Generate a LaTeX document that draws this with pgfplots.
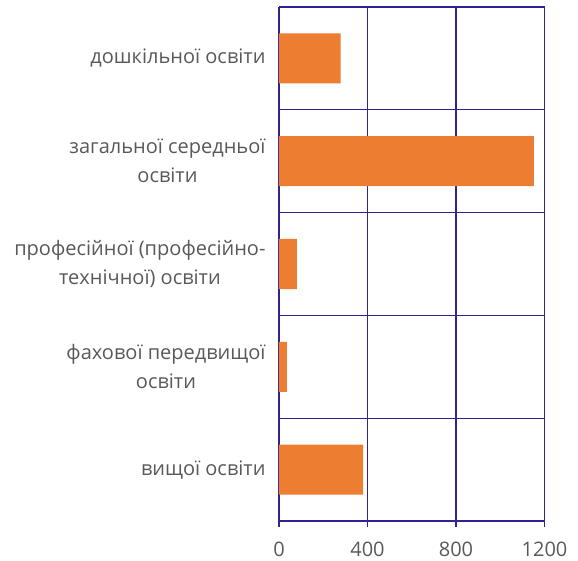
\documentclass[border=0pt]{standalone}
\usepackage{pgfplots}
\pgfplotsset{compat=1.18}
\usepackage{fontspec}
\setmainfont{Open Sans}
\definecolor{barc}{RGB}{237,125,49}
\definecolor{gridc}{RGB}{48,36,146}
\definecolor{txt}{RGB}{89,89,89}
\begin{document}
\begin{tikzpicture}[x=1pt,y=1pt]
\useasboundingbox (0,0) rectangle (578,561);
\begin{axis}[at={(279pt,40pt)}, anchor=south west, scale only axis,
  width=265.5pt, height=514pt,
  xmin=0, xmax=1200, ymin=-0.5, ymax=4.5, y dir=reverse,
  axis line style={draw=none},
  xtick={0,400,800,1200}, xmajorgrids,
  xtick pos=left, ytick pos=left, tick align=outside,
  major tick length=6pt,
  ytick={0,1,2,3,4},
  yticklabels={дошкільної освіти, {загальної середньої\\освіти}, {професійної (професійно-\\технічної) освіти}, {фахової передвищої\\освіти}, вищої освіти},
  extra y ticks={-0.5,0.5,1.5,2.5,3.5,4.5},
  extra y tick labels={},
  extra y tick style={grid=major, major tick length=7pt},
  y tick style={draw=none},
  extra y tick style={tick style={draw=gridc, line width=1.3pt}},
  x tick style={draw=gridc, line width=1.3pt},
  grid style={draw=gridc, line width=1.3pt},
  yticklabel style={align=center, font=\fontsize{20}{29}\selectfont, text=txt, xshift=-4pt},
  xticklabel style={font=\fontsize{20}{23}\selectfont, text=txt, yshift=-11pt},
  /pgf/number format/assume math mode=true,
  /pgf/number format/1000 sep={},
  xbar, bar width=50pt,
]
\addplot[fill=barc, draw=none] coordinates {(278,0) (1152,1) (81,2) (36,3) (380,4)};
\end{axis}
\end{tikzpicture}
\end{document}
